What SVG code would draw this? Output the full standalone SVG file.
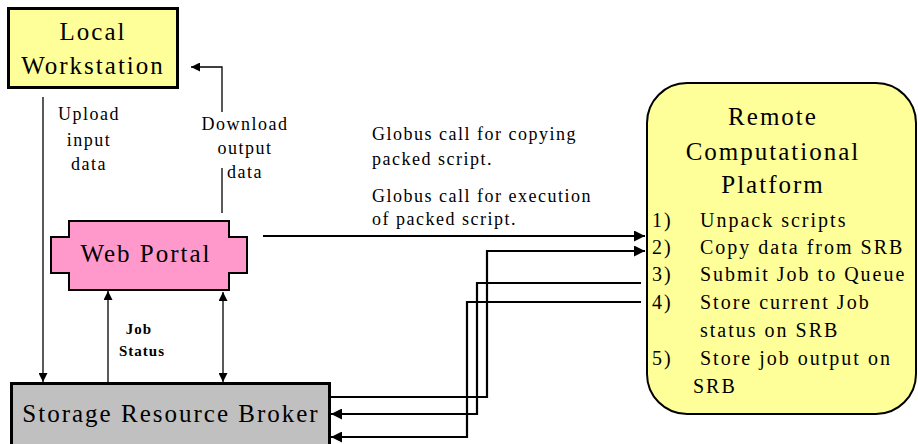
<svg xmlns="http://www.w3.org/2000/svg" width="918" height="444" viewBox="0 0 918 444">
<defs>
<marker id="ah" viewBox="0 0 10 10" refX="10" refY="5" markerWidth="10" markerHeight="9" markerUnits="userSpaceOnUse" orient="auto-start-reverse">
<path d="M0,0 L10,5 L0,10 z" fill="#000"/>
</marker>
<marker id="ahb" viewBox="0 0 10 10" refX="10" refY="5" markerWidth="13" markerHeight="11" markerUnits="userSpaceOnUse" orient="auto-start-reverse">
<path d="M0,0 L10,5 L0,10 z" fill="#000"/>
</marker>
</defs>
<rect width="918" height="444" fill="#fff"/>

<g id="connectors" fill="none" stroke="#000">
<g stroke-width="1.3">
<path d="M43,97 V382" marker-end="url(#ah)"/>
<path d="M222,213 V168"/>
<path d="M222,112 V67 H191" marker-end="url(#ah)"/>
<path d="M108,382 V291" marker-end="url(#ah)"/>
<path d="M223,292 V382" marker-start="url(#ah)" marker-end="url(#ah)"/>
</g>
<g stroke-width="2.2">
<path d="M263,236 H645" marker-end="url(#ahb)"/>
<path d="M330,397 H487 V251 H645" marker-end="url(#ahb)"/>
<path d="M641,283 H477 V414 H331" marker-end="url(#ahb)"/>
<path d="M641,302 H467 V437 H331" marker-end="url(#ahb)"/>
</g>
</g>

<g id="labels" font-family="'Times New Roman', 'Liberation Serif', serif" fill="#000">
<text font-size="18" letter-spacing="1.5" text-anchor="middle"><tspan x="89" y="120">Upload</tspan><tspan x="89" y="146">input</tspan><tspan x="89" y="170">data</tspan></text>
<text font-size="18" letter-spacing="1.5" text-anchor="middle"><tspan x="245" y="130">Download</tspan><tspan x="245" y="154">output</tspan><tspan x="245" y="178">data</tspan></text>
<text font-size="15" font-weight="bold" letter-spacing="1" text-anchor="middle"><tspan x="139" y="334">Job</tspan><tspan x="142" y="356">Status</tspan></text>
<text font-size="18" letter-spacing="1.5"><tspan x="372" y="140">Globus call for copying</tspan><tspan x="372" y="165">packed script.</tspan><tspan x="372" y="202">Globus call for execution</tspan><tspan x="372" y="225">of packed script.</tspan></text>
</g>

<g id="local-workstation">
<rect x="8.5" y="8.5" width="169" height="79" fill="#ffff99" stroke="#000" stroke-width="3"/>
<text font-family="'Times New Roman', 'Liberation Serif', serif" font-size="25" letter-spacing="2" text-anchor="middle"><tspan x="93" y="40">Local</tspan><tspan x="93" y="74">Workstation</tspan></text>
</g>

<g id="web-portal">
<polygon points="69,221 229,221 229,237 247,237 247,273 229,273 229,290 69,290 69,273 51,273 51,237 69,237" fill="#ff99cc" stroke="#000" stroke-width="2"/>
<text font-family="'Times New Roman', 'Liberation Serif', serif" font-size="25" letter-spacing="2" text-anchor="middle" x="146" y="262">Web Portal</text>
</g>

<g id="storage-resource-broker">
<rect x="11.5" y="383.5" width="318" height="70" fill="#c0c0c0" stroke="#000" stroke-width="3"/>
<text font-family="'Times New Roman', 'Liberation Serif', serif" font-size="25" letter-spacing="2" text-anchor="middle" x="171" y="422">Storage Resource Broker</text>
</g>

<g id="remote-platform">
<rect x="647" y="83" width="269" height="331" rx="40" ry="40" fill="#ffff99" stroke="#000" stroke-width="2"/>
<text font-family="'Times New Roman', 'Liberation Serif', serif" font-size="25" letter-spacing="2" text-anchor="middle"><tspan x="773" y="125">Remote</tspan><tspan x="773" y="160">Computational</tspan><tspan x="773" y="193">Platform</tspan></text>
<text font-family="'Times New Roman', 'Liberation Serif', serif" font-size="20" letter-spacing="2"><tspan x="652" y="227">1)</tspan><tspan x="700" y="227">Unpack scripts</tspan><tspan x="652" y="254">2)</tspan><tspan x="700" y="254">Copy data from SRB</tspan><tspan x="652" y="281">3)</tspan><tspan x="700" y="281">Submit Job to Queue</tspan><tspan x="652" y="309">4)</tspan><tspan x="700" y="309">Store current Job</tspan><tspan x="700" y="337">status on SRB</tspan><tspan x="652" y="365">5)</tspan><tspan x="700" y="365">Store job output on</tspan><tspan x="693" y="393">SRB</tspan></text>
</g>
</svg>
